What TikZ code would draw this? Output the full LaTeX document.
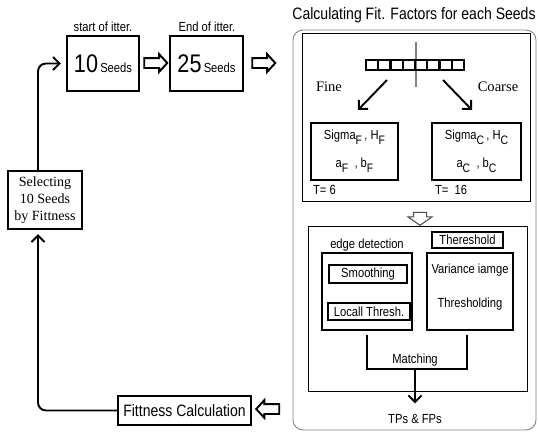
\documentclass[tikz,border=0pt]{standalone}
\usepackage{fontspec}
\setmainfont{Liberation Sans}[FakeStretch=0.85]
\newfontfamily\serifrm{Liberation Serif}
\usetikzlibrary{arrows.meta, shapes.arrows, positioning, calc}
\newcommand{\seedcount}[1]{{\fontsize{14.5}{16}\selectfont #1}\,{\fontsize{7.5}{9}\selectfont Seeds}}
\newcommand{\lowsub}[1]{\raisebox{-0.7ex}{\fontsize{7}{8}\selectfont #1}}

\begin{document}
\begin{tikzpicture}[x=0.02cm, y=-0.02cm,
    box/.style={rectangle, draw, line width=0.6pt, inner sep=0pt, align=center,
                font=\fontsize{7.5}{9}\selectfont},
    thickbox/.style={box, line width=1.3pt},
    panel/.style={rectangle, draw, line width=0.5pt, inner sep=0pt},
    txt/.style={inner sep=1pt, font=\fontsize{7.5}{9}\selectfont},
    serif/.style={inner sep=1pt, font=\serifrm\fontsize{8.3}{10}\selectfont},
    blockarrow/.style={single arrow, draw, line width=1.1pt, fill=white,
                inner xsep=0pt, inner ysep=0.08cm, minimum width=0.32cm, minimum height=0.46cm,
                single arrow head extend=0.08cm, single arrow tip angle=95},
    link/.style={line width=1.1pt, -{Straight Barb[length=1.3mm, width=2.6mm]}}]

    \useasboundingbox (0,0) rectangle (538,434);

    % Seeds of one iteration
    \node[thickbox, minimum width=1.44cm, minimum height=1.1cm] (seedA) at (103,63.5) {\seedcount{10}};
    \node[thickbox, minimum width=1.46cm, minimum height=1.1cm] (seedB) at (206.5,63.5) {\seedcount{25}};
    \node[txt] (startlbl) at (103,27) {start of itter.};
    \node[txt] (endlbl) at (207,27) {End of itter.};
    \node[blockarrow] (arrAB) at (153.5,63) {};
    \node[blockarrow] (arrBC) at (261.5,63) {};

    % Fit. factors panel
    \node[panel, draw=gray, rounded corners=0.2cm, minimum width=4.86cm, minimum height=8cm] (fitpanel) at (414.5,230) {};
    \node[font=\fontsize{9.4}{11}\selectfont] (fittitle) at (414,15) {Calculating Fit. Factors for each Seeds};
    \node[panel, minimum width=4.56cm, minimum height=3.36cm] (scales) at (416,117) {};

    % ruler split into fine and coarse
    \coordinate (divTop) at (416,42);
    \coordinate (divBot) at (416,87);
    \draw[gray, line width=0.6pt] (divTop) -- (divBot);
    \foreach \i in {1,...,8}
        \node[rectangle, draw, line width=1.2pt, inner sep=0pt, minimum width=0.245cm,
              minimum height=0.2cm] (cell\i) at ({366+12.25*(\i-0.5)},65) {};
    \node[serif] (fine) at (329,87) {Fine};
    \node[serif] (coarse) at (498,87) {Coarse};
    \coordinate (splitL) at (387,80);
    \coordinate (tipL) at (358,110);
    \coordinate (splitR) at (443,80);
    \coordinate (tipR) at (472,110);
    \draw[link] (splitL) -- (tipL);
    \draw[link] (splitR) -- (tipR);

    \node[box, minimum width=1.74cm, minimum height=1.14cm] (fineset) at (354.5,151.5)
        {Sigma\lowsub{F}\,, H\lowsub{F}\\[7pt] a\lowsub{F}~~, b\lowsub{F}};
    \node[box, minimum width=1.78cm, minimum height=1.14cm] (coarseset) at (476.5,151.5)
        {Sigma\lowsub{C}\,, H\lowsub{C}\\[7pt] a\lowsub{C}~~, b\lowsub{C}};
    \node[txt, anchor=west] (fineT) at (311,190) {T= 6};
    \node[txt, anchor=west] (coarseT) at (433,190) {T=~~16};

    \node[blockarrow, rotate=-90, draw=gray!60!black, line width=0.6pt,
          minimum width=0.46cm, minimum height=0.26cm, inner ysep=0.12cm,
          single arrow head extend=0.11cm, single arrow tip angle=110] (arrDown) at (420,216.5) {};

    % detection panel
    \node[panel, minimum width=4.38cm, minimum height=3.3cm] (detect) at (417.5,308.5) {};
    \node[txt] (edgelbl) at (367,245) {edge detection};
    \node[thickbox, line width=1.6pt, minimum width=1.8cm, minimum height=1.54cm] (edgebox) at (367,291.5) {};
    \node[box, minimum width=1.56cm, minimum height=0.36cm] (smooth) at (368,274) {Smoothing};
    \node[box, minimum width=1.64cm, minimum height=0.34cm] (locthr) at (369,311.5) {Locall Thresh.};
    \node[box, minimum width=1.42cm, minimum height=0.32cm] (threslbl) at (467.5,240) {Thereshold};
    \node[thickbox, line width=1.6pt, minimum width=1.72cm, minimum height=1.54cm] (varbox) at (470,291.5) {};
    \node[txt] (varimg) at (470,270) {Variance iamge};
    \node[txt] (varthr) at (470,304) {Thresholding};

    \coordinate (match) at (415,369);
    \draw[line width=1.1pt, shorten <=0.08cm, shorten >=0.08cm]
        (edgebox.south) |- (match) -| ([xshift=-0.06cm]varbox.south);
    \node[txt] (matchlbl) at (415,360) {Matching};
    \node[txt] (tps) at (415,419) {TPs \& FPs};
    \draw[link, shorten >=0.18cm] (match) -- (tps.north);

    % Fitness loop
    \node[box, minimum width=2.66cm, minimum height=0.58cm, font=\fontsize{9.4}{11}\selectfont] (fitcalc) at (184.5,410.5) {Fittness Calculation};
    \node[blockarrow, rotate=180] (arrFit) at (270,409) {};
    \node[thickbox, minimum width=1.48cm, minimum height=1.16cm, font=\serifrm\fontsize{8}{9.6}\selectfont] (select) at (45,200)
        {Selecting\\10 Seeds\\by Fittness};
    \draw[link, rounded corners=0.16cm, shorten >=0.08cm] (fitcalc.west) -| ([xshift=-0.14cm]select.south);
    \draw[link, rounded corners=0.16cm, shorten >=0.1cm] ([xshift=-0.14cm]select.north) |- (seedA.west);
\end{tikzpicture}
\end{document}
